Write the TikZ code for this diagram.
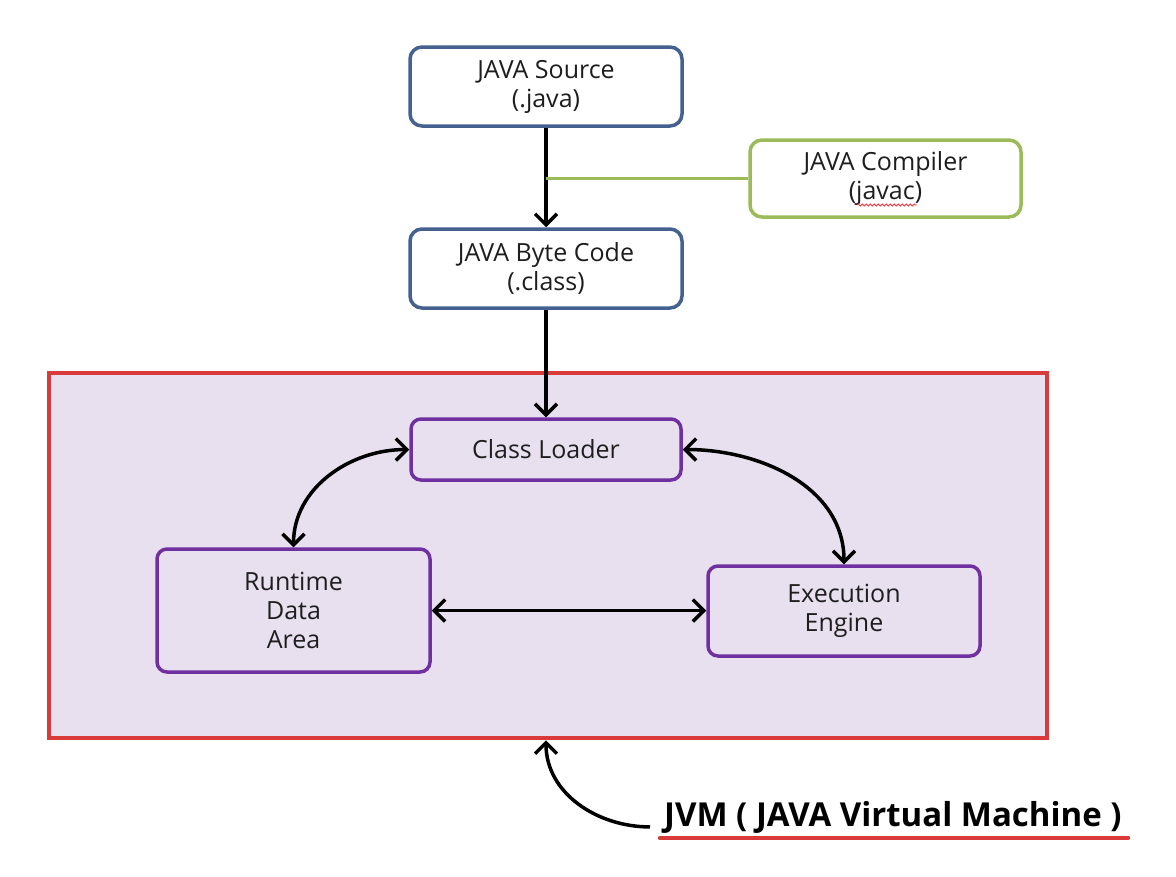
\documentclass[tikz,border=0pt]{standalone}
\usepackage{fontspec}
\setmainfont{Open Sans}
\usetikzlibrary{arrows.meta,decorations.pathmorphing}
\definecolor{bluebd}{HTML}{44618F}
\definecolor{greenbd}{HTML}{9BBB59}
\definecolor{purplebd}{HTML}{7030A0}
\definecolor{redbd}{HTML}{D93A3A}
\definecolor{lav}{HTML}{E8E0EF}
\definecolor{txt}{HTML}{1E1E1E}
\tikzset{
  box/.style={draw, line width=3.5pt, rounded corners=12pt, fill=white, align=center,
    text=txt, font=\fontsize{25}{29}\selectfont, inner sep=0pt},
  bluebox/.style={box, draw=bluebd},
  greenbox/.style={box, draw=greenbd},
  purplebox/.style={box, draw=purplebd, fill=none, rounded corners=10pt},
  conn/.style={line width=3.5pt, black, -{Straight Barb[length=11pt,width=22pt,line width=3.5pt]}},
  biconn/.style={line width=3.5pt, black, {Straight Barb[length=11pt,width=22pt,line width=3.5pt]}-{Straight Barb[length=11pt,width=22pt,line width=3.5pt]}},
}
\begin{document}
\begin{tikzpicture}[x=1pt,y=-1pt]
\useasboundingbox[fill=white] (0,0) rectangle (1176,876);
% JVM container
\node[draw=redbd, line width=4.5pt, fill=lav, minimum width=998pt, minimum height=365pt, inner sep=0pt] (jvm) at (548,555.5) {};
% boxes
\node[bluebox, minimum width=272pt, minimum height=79pt] (src) at (546,86.5) {JAVA Source\\(.java)};
\node[greenbox, minimum width=271pt, minimum height=77pt] (cmp) at (885.5,178.5) {JAVA Compiler\\(javac)};
\node[bluebox, minimum width=272pt, minimum height=79pt] (bc) at (546,268.5) {JAVA Byte Code\\(.class)};
\node[purplebox, minimum width=270pt, minimum height=61pt] (cl) at (546,449.5) {Class Loader};
\node[purplebox, minimum width=273pt, minimum height=123pt] (rt) at (293.5,610.5) {Runtime\\Data\\Area};
\node[purplebox, minimum width=272pt, minimum height=90pt] (ex) at (844,611) {Execution\\Engine};
% spell-check wavy underline
\draw[red!80!white, line width=0.8pt, decorate, decoration={snake, amplitude=1pt, segment length=4pt}] (857,205) -- (917,205);
% connectors
\draw[conn] (src.south) -- (bc.north);
\draw[greenbd, line width=3.5pt] (src.south |- cmp.west) coordinate (gj) -- (cmp.west);
\draw[conn] (bc.south) -- (cl.north);
\draw[biconn] (cl.west) to[out=180,in=90] (rt.north);
\draw[biconn] (cl.east) to[out=0,in=90] (ex.north);
\draw[biconn] (rt.east) -- (rt.east -| ex.west);
% JVM label
\node[anchor=base west, inner sep=0pt, font=\bfseries\fontsize{33}{36}\selectfont, text=black] (lbl) at (664,826) {JVM ( JAVA Virtual Machine )};
\draw[redbd, line width=4.5pt, line cap=round] (660,838) coordinate (u1) -- (1128,838) coordinate (u2);
\draw[conn] (lbl.west) ++(-14pt,-10pt) coordinate (la) to[out=180,in=270] (jvm.south -| 546,0);
\end{tikzpicture}
\end{document}
